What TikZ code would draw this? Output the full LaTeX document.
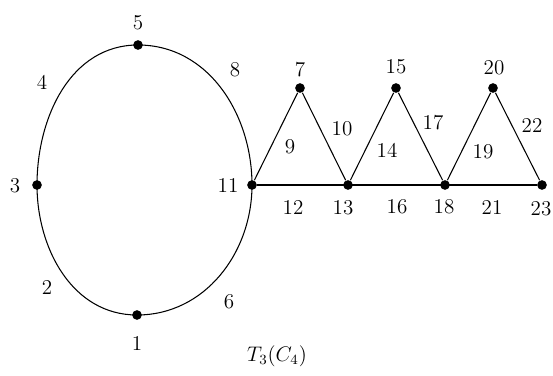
\documentclass[tikz,border=0pt]{standalone}
\usepackage{amsmath}
\usepackage{tikz}
\usetikzlibrary{positioning}

\begin{document}
\begin{tikzpicture}[x=0.02cm, y=-0.02cm, line width=0.6pt,
    every node/.style={font=\fontsize{12}{14}\selectfont},
    vertex/.style={circle, fill=black, inner sep=0pt, minimum size=5.5pt},
    lbl/.style={inner sep=0pt}]
        \useasboundingbox (0,0) rectangle (553,375);
        % vertices
        \node[vertex] (v1) at (137,315) {};
        \node[vertex] (v3) at (37,185) {};
        \node[vertex] (v5) at (138,45) {};
        \node[vertex] (v11) at (252,185) {};
        \node[vertex] (v7) at (300,88) {};
        \node[vertex] (v13) at (348,185) {};
        \node[vertex] (v15) at (396,88) {};
        \node[vertex] (v18) at (445,185) {};
        \node[vertex] (v20) at (493,88) {};
        \node[vertex] (v23) at (542,185) {};
        % the cycle
        \draw (v3.center) to[out=90, in=180] (v5.center);
        \draw (v5.center) to[out=0, in=90] (v11.center);
        \draw (v11.center) to[out=-90, in=0] (v1.center);
        \draw (v1.center) to[out=180, in=-90] (v3.center);
        % the triangles
        \draw (v11) -- (v7) -- (v13) -- (v15) -- (v18) -- (v20) -- (v23);
        \draw (v11) -- (v23);
        % vertex labels
        \node[lbl] (l1) at (137,343) {1};
        \node[lbl] (l3) at (15,186) {3};
        \node[lbl] (l5) at (138,23) {5};
        \node[lbl] (l11) at (228,185) {11};
        \node[lbl] (l7) at (300,70) {7};
        \node[lbl] (l13) at (343,208) {13};
        \node[lbl] (l15) at (396,67) {15};
        \node[lbl] (l18) at (444,207) {18};
        \node[lbl] (l20) at (494,68) {20};
        \node[lbl] (l23) at (541,209) {23};
        % edge labels
        \node[lbl] (l2) at (47,287) {2};
        \node[lbl] (l4) at (42,82) {4};
        \node[lbl] (l6) at (229,302) {6};
        \node[lbl] (l8) at (235,70) {8};
        \node[lbl] (l9) at (290,147) {9};
        \node[lbl] (l10) at (342,129) {10};
        \node[lbl] (l12) at (293,207) {12};
        \node[lbl] (l14) at (387,150) {14};
        \node[lbl] (l16) at (397,207) {16};
        \node[lbl] (l17) at (433,123) {17};
        \node[lbl] (l19) at (483,152) {19};
        \node[lbl] (l21) at (492,207) {21};
        \node[lbl] (l22) at (532,125) {22};
        % caption
        \node (cap) at (277,356) {$T_3(C_4)$};
      \end{tikzpicture}
\end{document}
